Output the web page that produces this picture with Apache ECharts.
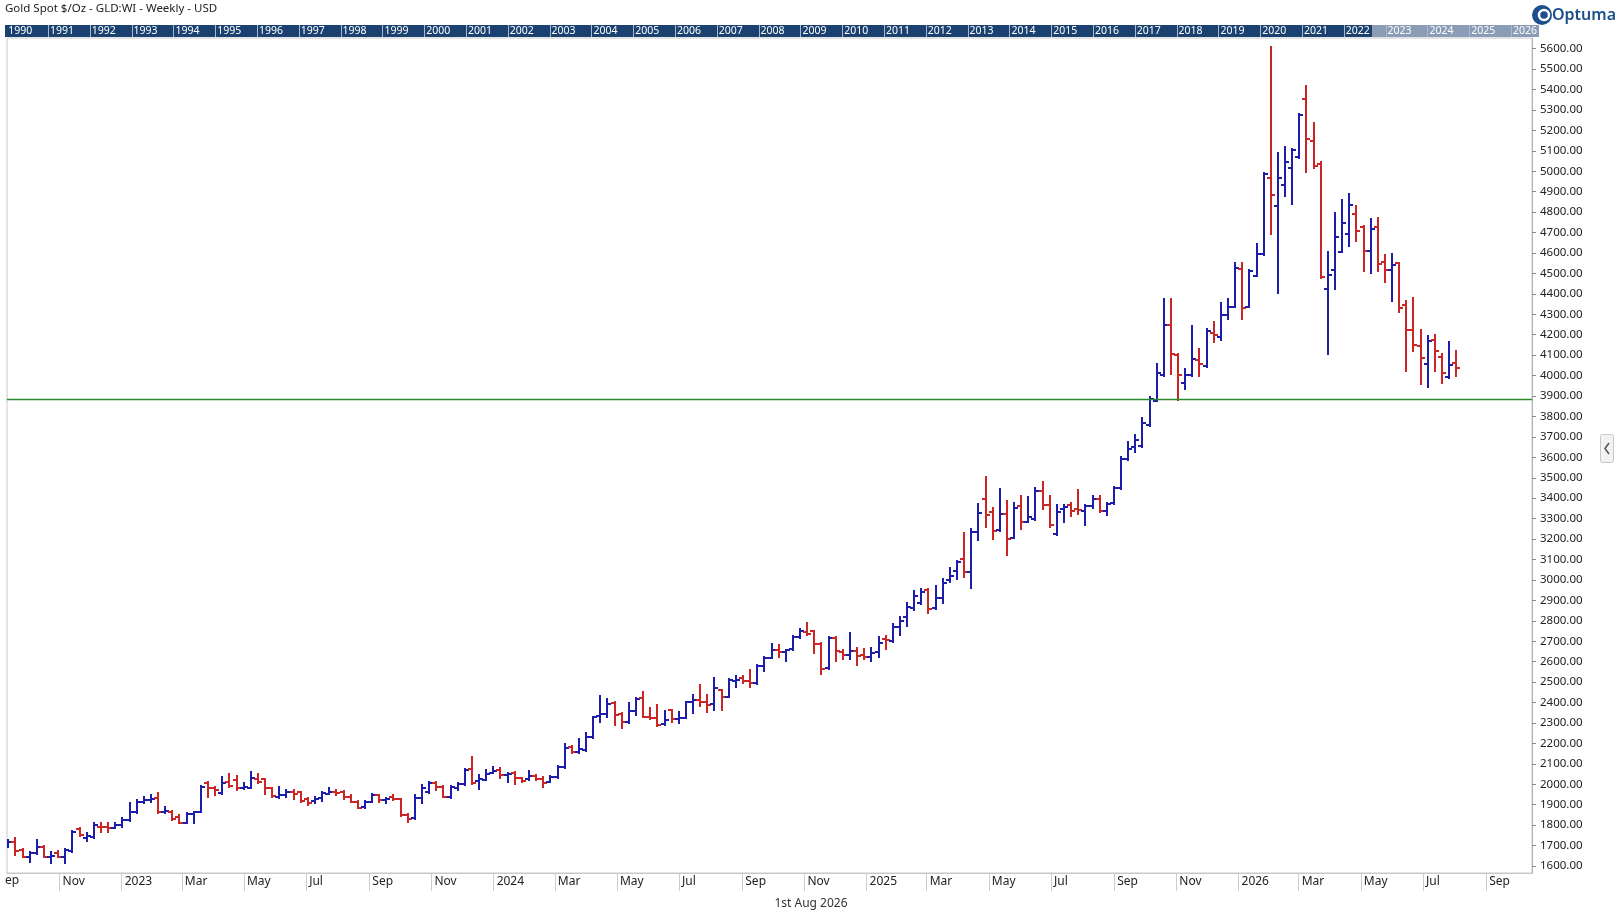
<!DOCTYPE html>
<html>
<head>
<meta charset="utf-8">
<title>Gold Spot $/Oz - GLD:WI - Weekly - USD</title>
<script src="https://cdn.jsdelivr.net/npm/echarts@6/dist/echarts.min.js"></script>
<style>
html, body { margin: 0; padding: 0; background: #fff; }
#chart { width: 1620px; height: 924px; }
</style>
</head>
<body>
<div id="chart"></div>
<script>
// weekly bars, first bar is the week ending Fri 9 Sep 2022
var firstWeek = [2022, 8, 9];

var opens = [
    1710,1719,1678,1643,1662,1695,1643,1665,1642,1675,
    1779,1737,1740,1792,1792,1788,1801,1825,1863,1915,
    1923,1931,1866,1866,1841,1812,1854,1866,2004,1980,
    1959,2009,2021,1980,1983,2026,2026,1980,1939,1947,
    1964,1960,1928,1918,1931,1955,1964,1964,1939,1915,
    1890,1915,1947,1923,1939,1928,1850,1833,1931,1964,
    2008,1988,1936,1980,2001,2073,2016,2021,2057,2070,
    2045,2053,2029,2024,2040,2024,2013,2037,2083,2184,
    2159,2168,2230,2336,2342,2399,2344,2306,2358,2420,
    2331,2323,2295,2363,2319,2326,2405,2412,2404,2391,
    2461,2428,2504,2518,2505,2494,2580,2619,2657,2648,
    2660,2719,2747,2751,2689,2567,2714,2645,2634,2654,
    2634,2621,2645,2711,2699,2771,2820,2862,2885,2952,
    2862,2911,2999,3042,3102,3037,3237,3394,3332,3242,
    3324,3205,3360,3286,3299,3435,3368,3223,3348,3368,
    3348,3337,3362,3397,3335,3376,3449,3590,3650,3655,
    3760,3878,4001,4250,4100,3965,4002,4074,4046,4209,
    4188,4296,4337,4520,4337,4487,4593,4965,4829,4932,
    5014,5068,5353,5147,5033,4426,4519,4606,4691,4789,
    4728,4611,4728,4557,4519,4549,4345,4223,4144,4056,
    4174,4089,3994,4064
];
var highs = [
    1727,1735,1682,1670,1727,1696,1670,1675,1681,1772,
    1784,1760,1809,1812,1812,1812,1833,1907,1923,1939,
    1948,1956,1887,1868,1850,1858,1866,1991,2009,1988,
    2034,2049,2042,2005,2058,2049,2027,1983,1988,1972,
    1972,1961,1934,1939,1964,1983,1972,1966,1947,1917,
    1918,1951,1948,1931,1947,1929,1853,1947,1997,2009,
    2013,1990,1991,2005,2073,2132,2045,2070,2086,2078,
    2057,2058,2030,2066,2045,2034,2040,2089,2197,2187,
    2220,2249,2328,2432,2416,2401,2350,2396,2420,2453,
    2371,2388,2358,2366,2355,2404,2437,2486,2437,2518,
    2463,2515,2530,2530,2560,2583,2624,2686,2681,2657,
    2725,2758,2791,2752,2693,2719,2721,2657,2740,2667,
    2662,2667,2719,2727,2784,2820,2885,2947,2955,2955,
    2972,3004,3058,3091,3228,3249,3374,3505,3352,3443,
    3386,3376,3410,3405,3449,3479,3410,3368,3368,3376,
    3441,3365,3409,3410,3376,3454,3601,3675,3711,3792,
    3896,4058,4377,4377,4104,4030,4242,4128,4226,4262,
    4353,4373,4549,4549,4515,4642,4989,5607,5087,5120,
    5110,5278,5417,5234,5043,4603,4798,4859,4891,4831,
    4730,4766,4769,4590,4594,4551,4366,4382,4223,4193,
    4201,4108,4162,4120
];
var lows = [
    1695,1654,1642,1621,1659,1642,1616,1642,1616,1670,
    1747,1724,1738,1768,1768,1786,1792,1822,1860,1907,
    1915,1861,1858,1825,1812,1810,1812,1864,1936,1947,
    1951,1988,1972,1975,1981,2005,1951,1939,1934,1939,
    1928,1915,1899,1907,1918,1954,1947,1928,1912,1885,
    1886,1912,1915,1907,1923,1846,1817,1830,1910,1956,
    1972,1936,1934,1972,1999,2001,1975,2019,2055,2029,
    2013,2001,2013,2022,2021,1985,2011,2029,2081,2151,
    2151,2164,2228,2306,2328,2291,2277,2298,2339,2327,
    2319,2287,2290,2306,2298,2324,2350,2384,2355,2366,
    2366,2426,2474,2497,2474,2492,2554,2617,2624,2605,
    2658,2714,2730,2644,2539,2565,2605,2613,2613,2583,
    2613,2605,2621,2662,2694,2732,2776,2855,2880,2836,
    2860,2885,2988,3004,3016,2959,3195,3260,3202,3240,
    3123,3203,3247,3284,3294,3345,3259,3221,3286,3311,
    3324,3268,3350,3332,3316,3374,3447,3585,3626,3653,
    3752,3876,3999,4006,3883,3932,4000,3998,4044,4166,
    4172,4275,4335,4275,4335,4485,4591,4694,4405,4880,
    4842,5066,4997,5017,4480,4104,4422,4603,4635,4660,
    4513,4503,4513,4456,4366,4312,4024,4121,3958,3942,
    4024,3962,3986,3999
];
var closes = [
    1719,1675,1643,1662,1692,1643,1650,1643,1678,1768,
    1752,1747,1801,1789,1784,1801,1825,1863,1915,1923,
    1928,1866,1869,1828,1813,1854,1863,1988,1980,1970,
    2005,1993,1980,1988,2029,2009,1980,1944,1947,1964,
    1951,1918,1910,1928,1956,1964,1956,1939,1915,1886,
    1912,1947,1923,1926,1928,1850,1830,1931,1980,2008,
    1988,1937,1985,2001,2070,2005,2024,2050,2066,2045,
    2050,2029,2016,2040,2024,2008,2037,2083,2176,2159,
    2171,2230,2327,2342,2393,2339,2306,2357,2416,2331,
    2323,2290,2314,2318,2323,2402,2412,2401,2386,2469,
    2428,2510,2508,2505,2494,2580,2619,2657,2649,2656,
    2722,2751,2735,2686,2562,2714,2650,2634,2650,2626,
    2621,2642,2690,2706,2768,2797,2866,2923,2942,2857,
    2911,2983,3020,3087,3040,3237,3330,3317,3238,3324,
    3202,3352,3286,3308,3435,3368,3267,3332,3357,3335,
    3343,3362,3398,3335,3370,3449,3590,3639,3683,3769,
    3886,4012,4247,4108,4001,4002,4079,4058,4218,4198,
    4296,4337,4528,4329,4511,4593,4988,4886,4965,5043,
    5106,5275,5157,5027,4484,4492,4676,4749,4833,4707,
    4609,4717,4544,4515,4541,4332,4223,4149,4084,4170,
    4120,4015,4051,4038
];

var priceTicks = [
    1600,1700,1800,1900,2000,2100,2200,2300,2400,2500,
    2600,2700,2800,2900,3000,3100,3200,3300,3400,3500,
    3600,3700,3800,3900,4000,4100,4200,4300,4400,4500,
    4600,4700,4800,4900,5000,5100,5200,5300,5400,5500,5600
];
var monthTicks = [
    [2022,10],[2023,0],[2023,2],[2023,4],[2023,6],[2023,8],[2023,10],
    [2024,0],[2024,2],[2024,4],[2024,6],[2024,8],[2024,10],
    [2025,0],[2025,2],[2025,4],[2025,6],[2025,8],[2025,10],
    [2026,0],[2026,2],[2026,4],[2026,6],[2026,8]
];
var monthNames = ['Jan','Feb','Mar','Apr','May','Jun','Jul','Aug','Sep','Oct','Nov','Dec'];
var supportLevel = 3884;
var stripYears = [1990, 2026];

var DAY = 86400000;
var barShift = 2.7 * DAY;
var upColor = '#1d1dab';
var downColor = '#cc2526';
var font = '"Noto Sans", "Open Sans", sans-serif';

var weekTimes = opens.map(function (v, i) {
    return +new Date(firstWeek[0], firstWeek[1], firstWeek[2] + 7 * i);
});
var ohlc = weekTimes.map(function (t, i) {
    return [t, opens[i], highs[i], lows[i], closes[i]];
});
var monthTimes = monthTicks.map(function (m) { return +new Date(m[0], m[1], 1); });

function renderOhlc(params, api) {
    var t = api.value(0) + barShift;
    var o = api.value(1), c = api.value(4);
    var top = api.coord([t, api.value(2)]);
    var bot = api.coord([t, api.value(3)]);
    var x = Math.round(top[0]);
    var yo = Math.round(api.coord([t, o])[1]);
    var yc = Math.round(api.coord([t, c])[1]);
    var style = { stroke: c >= o ? upColor : downColor, lineWidth: 2 };
    return {
        type: 'group',
        children: [
            { type: 'line', shape: { x1: x, y1: Math.round(top[1]) - 1, x2: x, y2: Math.round(bot[1]) + 1 }, style: style },
            { type: 'line', shape: { x1: x - 4, y1: yo, x2: x, y2: yo }, style: style },
            { type: 'line', shape: { x1: x, y1: yc, x2: x + 4, y2: yc }, style: style }
        ]
    };
}

// year navigator strip across the top
var stripX = 5, stripW = 1534, stripY = 25, stripH = 12, yearW = 41.8, yearX0 = 6.2;
var stripItems = [
    { type: 'rect', shape: { x: stripX, y: stripY, width: stripW, height: stripH }, style: { fill: '#1a416f' } },
    { type: 'rect', shape: { x: 1372, y: stripY, width: stripX + stripW - 1372, height: stripH }, style: { fill: '#8a9cb6' } }
];
for (var yr = stripYears[0]; yr <= stripYears[1]; yr++) {
    var sx = yearX0 + (yr - stripYears[0]) * yearW;
    if (yr > stripYears[0]) {
        stripItems.push({ type: 'line', shape: { x1: Math.round(sx) + 0.5, y1: stripY, x2: Math.round(sx) + 0.5, y2: stripY + stripH }, style: { stroke: '#a9b8cc', lineWidth: 1 } });
    }
    stripItems.push({
        type: 'text', x: sx + 2, y: stripY + stripH / 2 + 0.5,
        style: { text: String(yr), fill: '#ffffff', font: '10.5px ' + font, verticalAlign: 'middle' }
    });
}

var myChart = echarts.init(document.getElementById('chart'));

var option = {
    animation: false,
    backgroundColor: '#ffffff',
    grid: {
        left: 7, right: 88, top: 38, bottom: 51,
        show: true, borderColor: '#c8c8c8', borderWidth: 1
    },
    xAxis: {
        // dates as timestamps on a value axis so ticks can sit on month starts
        type: 'value',
        min: +new Date(2022, 8, 10, 10, 30),
        max: +new Date(2026, 9, 16),
        splitLine: { show: false },
        axisLine: { show: true, lineStyle: { color: '#c8c8c8' } },
        axisTick: { show: true, customValues: monthTimes, length: 18, lineStyle: { color: '#cdcdcd' } },
        axisLabel: {
            customValues: monthTimes,
            align: 'left',
            margin: 3,
            padding: [0, 0, 0, 3],
            color: '#222',
            fontSize: 12,
            fontFamily: font,
            formatter: function (v) {
                var d = new Date(v);
                return d.getMonth() === 0 ? String(d.getFullYear()) : monthNames[d.getMonth()];
            }
        }
    },
    yAxis: {
        type: 'value',
        position: 'right',
        min: 1566,
        max: 5652,
        splitLine: { show: false },
        axisLine: { show: true, lineStyle: { color: '#b4b4b4' } },
        axisTick: { show: true, customValues: priceTicks, length: 4, lineStyle: { color: '#888' } },
        axisLabel: {
            customValues: priceTicks,
            margin: 8,
            color: '#222',
            fontSize: 11.5,
            fontFamily: font,
            formatter: function (v) { return Number(v).toFixed(2); }
        }
    },
    series: [{
        name: 'Gold Spot',
        type: 'custom',
        renderItem: renderOhlc,
        data: ohlc,
        encode: { x: 0, y: [1, 2, 3, 4] },
        clip: true,
        markLine: {
            silent: true,
            symbol: 'none',
            label: { show: false },
            lineStyle: { color: '#2b8a2b', width: 1.3, type: 'solid' },
            data: [{ yAxis: supportLevel }]
        }
    }],
    graphic: [
        {
            type: 'text', left: 5, top: 3,
            style: { text: 'Gold Spot $/Oz - GLD:WI - Weekly - USD', fill: '#222', font: '11.5px ' + font }
        },
        { type: 'group', children: stripItems },
        // Optuma mark
        { type: 'circle', shape: { cx: 1542, cy: 15, r: 10 }, style: { fill: '#1c4f8c' } },
        { type: 'circle', shape: { cx: 1544, cy: 15, r: 5 }, style: { fill: 'none', stroke: '#ffffff', lineWidth: 2.5 } },
        {
            type: 'text', x: 1552, y: 15,
            style: { text: 'Optuma', fill: '#1c4f8c', font: '600 16px ' + font, verticalAlign: 'middle' }
        },
        // clipped first month label
        {
            type: 'text', x: 5, y: 881,
            style: { text: 'ep', fill: '#222', font: '12px ' + font, verticalAlign: 'middle' }
        },
        {
            type: 'text', x: 811, y: 904,
            style: { text: '1st Aug 2026', fill: '#333', font: '12px ' + font, align: 'center', verticalAlign: 'middle' }
        },
        // side panel tab
        { type: 'rect', shape: { x: 1600.5, y: 434.5, width: 13, height: 28, r: 2 }, style: { fill: '#f2f2f2', stroke: '#c8c8c8' } },
        { type: 'polyline', shape: { points: [[1609, 443], [1605, 448.5], [1609, 454]] }, style: { stroke: '#555', lineWidth: 1.5, fill: 'none' } }
    ]
};

myChart.setOption(option);
</script>
</body>
</html>
